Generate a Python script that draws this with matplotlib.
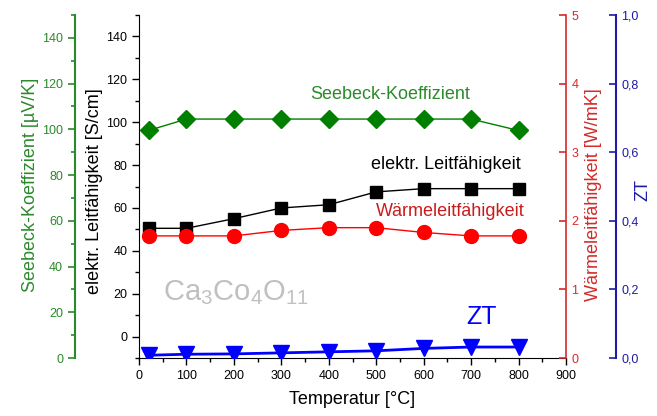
import matplotlib.pyplot as plt
from matplotlib.ticker import MultipleLocator, FuncFormatter

plt.rcParams['font.family'] = ['Liberation Sans', 'DejaVu Sans']
plt.rcParams['mathtext.default'] = 'regular'

# Messwerte
temperatur = [20, 100, 200, 300, 400, 500, 600, 700, 800]
seebeck = [99.5, 104.5, 104.5, 104.5, 104.5, 104.5, 104.5, 104.5, 99.5]     # µV/K
leitfaehigkeit = [50.5, 50.5, 55, 60, 61.5, 67.5, 69, 69, 69]              # S/cm
waermeleit = [1.78, 1.78, 1.78, 1.86, 1.90, 1.90, 1.83, 1.78, 1.78]        # W/mK
zt = [0.008, 0.011, 0.012, 0.015, 0.018, 0.021, 0.028, 0.032, 0.032]

gruen = '#007f00'
gruen_achse = '#2b8a2b'
rot = '#ff0000'
rot_achse = '#d42a2a'
blau = '#0000ff'
blau_achse = '#1c1ca6'

fig = plt.figure(figsize=(6.57, 4.16), dpi=100)
ax = fig.add_axes([0.2116, 0.1394, 0.6499, 0.8245])

# Hauptachse: elektr. Leitfähigkeit
ax.plot(temperatur, leitfaehigkeit, color='black', lw=1, marker='s', ms=8, zorder=4)
ax.set_xlim(0, 900)
ax.set_ylim(-10, 150)
ax.xaxis.set_major_locator(MultipleLocator(100))
ax.xaxis.set_minor_locator(MultipleLocator(50))
ax.set_yticks(range(0, 141, 20))
ax.yaxis.set_minor_locator(MultipleLocator(10))
ax.tick_params(axis='both', which='major', direction='out', length=5, labelsize=9, width=1)
ax.tick_params(axis='both', which='minor', direction='out', length=3, width=1)
ax.spines['top'].set_visible(False)
ax.spines['right'].set_visible(False)
ax.set_xlabel('Temperatur [°C]', fontsize=13)
ax.xaxis.set_label_coords(0.5, -0.095)
ax.set_ylabel('elektr. Leitfähigkeit [S/cm]', fontsize=13)
ax.yaxis.set_label_coords(-0.085, 0.487)

# Seebeck-Koeffizient (grüne Achse links außen)
ax_g = ax.twinx()
ax_g.plot(temperatur, seebeck, color=gruen, lw=1, marker='D', ms=9, zorder=4)
ax_g.set_ylim(0, 150)
ax_g.yaxis.set_ticks_position('left')
ax_g.yaxis.set_label_position('left')
ax_g.spines['left'].set_position(('axes', -0.15))
ax_g.spines['left'].set_color(gruen_achse)
ax_g.spines['left'].set_linewidth(1.5)
for s in ['top', 'right', 'bottom']:
    ax_g.spines[s].set_visible(False)
ax_g.set_yticks(range(0, 141, 20))
ax_g.yaxis.set_minor_locator(MultipleLocator(10))
ax_g.tick_params(axis='y', which='major', direction='out', length=5, labelsize=9,
                 colors=gruen_achse, width=1.2)
ax_g.tick_params(axis='y', which='minor', direction='out', length=3,
                 colors=gruen_achse, width=1.2)
ax_g.set_ylabel('Seebeck-Koeffizient [µV/K]', fontsize=13, color=gruen_achse)
ax_g.yaxis.set_label_coords(-0.234, 0.504)

# Wärmeleitfähigkeit (rote Achse rechts)
ax_r = ax.twinx()
ax_r.plot(temperatur, waermeleit, color=rot, lw=1, marker='o', ms=10, zorder=4)
ax_r.set_ylim(0, 5)
ax_r.set_yticks(range(0, 6))
for s in ['top', 'left', 'bottom']:
    ax_r.spines[s].set_visible(False)
ax_r.spines['right'].set_color(rot_achse)
ax_r.spines['right'].set_linewidth(1.2)
ax_r.tick_params(axis='y', direction='in', length=5, labelsize=9, colors=rot_achse,
                 width=1.2, pad=4)
ax_r.set_ylabel('Wärmeleitfähigkeit [W/mK]', fontsize=13, color=rot_achse, rotation=90)
ax_r.yaxis.set_label_coords(1.045, 0.475)

# ZT (blaue Achse rechts außen)
ax_b = ax.twinx()
ax_b.plot(temperatur, zt, color=blau, lw=2, marker='v', ms=11, zorder=4)
ax_b.set_ylim(0, 1)
ax_b.set_yticks([0, 0.2, 0.4, 0.6, 0.8, 1.0])
ax_b.yaxis.set_major_formatter(FuncFormatter(lambda v, p: f'{v:.1f}'.replace('.', ',')))
ax_b.spines['right'].set_position(('axes', 1.1164))
for s in ['top', 'left', 'bottom']:
    ax_b.spines[s].set_visible(False)
ax_b.spines['right'].set_color(blau_achse)
ax_b.spines['right'].set_linewidth(1.5)
ax_b.tick_params(axis='y', direction='in', length=5, labelsize=9, colors=blau_achse,
                 width=1.2, pad=4)
ax_b.set_ylabel('ZT', fontsize=13, color=blau_achse, rotation=90)
ax_b.yaxis.set_label_coords(1.16, 0.49)

# Beschriftungen im Diagramm
ax.text(0.588, 0.767, 'Seebeck-Koeffizient', transform=ax.transAxes, color=gruen_achse,
        fontsize=13, ha='center', va='center')
ax.text(0.719, 0.563, 'elektr. Leitfähigkeit', transform=ax.transAxes, color='black',
        fontsize=13, ha='center', va='center')
ax.text(0.729, 0.426, 'Wärmeleitfähigkeit', transform=ax.transAxes, color='#cc1a1a',
        fontsize=13, ha='center', va='center')
ax.text(0.803, 0.12, 'ZT', transform=ax.transAxes, color=blau, fontsize=18,
        ha='center', va='center')
ax.text(0.227, 0.19, r'Ca$_3$Co$_4$O$_{11}$', transform=ax.transAxes, color='#c0c0c0',
        fontsize=21, ha='center', va='center')

fig.savefig('out.png', dpi=100)
